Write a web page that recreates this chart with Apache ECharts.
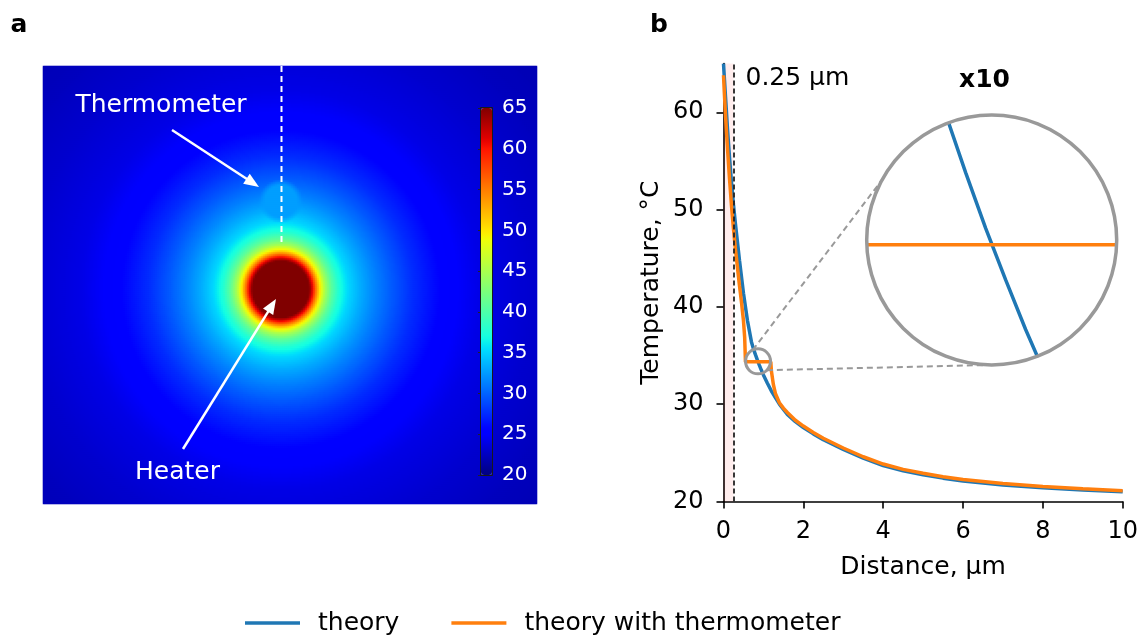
<!DOCTYPE html>
<html>
<head>
<meta charset="utf-8">
<script src="https://cdn.jsdelivr.net/npm/echarts@6/dist/echarts.min.js"></script>
<style>
  html, body { margin: 0; padding: 0; background: #ffffff; }
  #chart { width: 1141px; height: 635px; }
</style>
</head>
<body>
<div id="chart"></div>
<script>
// ---- Panel b: temperature along the dashed path, distance from the heater surface (µm) ----
const theoryDist = [0, 0.02, 0.05, 0.1, 0.15, 0.2, 0.25, 0.3, 0.4, 0.5, 0.6, 0.7, 0.75, 0.8, 0.85, 0.9, 0.95, 1.0,
  1.1, 1.2, 1.4, 1.6, 1.8, 2.0, 2.25, 2.5, 3.0, 3.5, 4.0, 4.5, 5.0, 5.5, 6.0, 7.0, 8.0, 9.0, 10.0];
const theoryTemp = [65.0, 63.6, 61.6, 58.3, 55.4, 52.8, 50.5, 48.5, 44.8, 41.4, 38.6, 36.4, 35.69, 35.09, 34.52, 33.99, 33.48, 33.01,
  32.15, 31.35, 30.0, 28.95, 28.2, 27.6, 26.95, 26.35, 25.35, 24.45, 23.7, 23.15, 22.75, 22.4, 22.1, 21.7, 21.42, 21.18, 21.0];

const thermoDist = [0, 0.02, 0.05, 0.1, 0.15, 0.2, 0.25, 0.3, 0.4, 0.45, 0.5, 0.53, 0.55, 1.185,
  1.2, 1.25, 1.3, 1.4, 1.5, 1.6, 1.8, 2.0, 2.25, 2.5, 3.0, 3.5, 4.0, 4.5, 5.0, 5.5, 6.0, 7.0, 8.0, 9.0, 10.0];
const thermoTemp = [63.8, 62.1, 59.7, 56.3, 53.2, 50.4, 48.0, 45.9, 42.2, 40.5, 38.6, 36.9, 34.35, 34.35,
  33.4, 32.0, 31.1, 30.15, 29.6, 29.15, 28.35, 27.75, 27.1, 26.5, 25.5, 24.6, 23.85, 23.3, 22.9, 22.55, 22.25, 21.85, 21.55, 21.3, 21.1];

const distTicks = [0, 2, 4, 6, 8, 10];
const tempTicks = [20, 30, 40, 50, 60];
const markerDist = 0.25;          // thermometer gap marker
const zoomCenter = [0.865, 34.4]; // centre of the magnified region
const zoomFactor = 10;

// ---- Panel a: temperature map, radial profile around the heater (map pixels) ----
const mapRadius = [0, 28.5, 30, 32, 35, 39, 44, 50, 58, 68, 80, 95, 112, 132, 160, 200, 250, 300, 360];
const mapTemp   = [65, 65, 63, 60.5, 55.5, 50, 45, 41, 37.5, 35, 33.2, 31.3, 29.5, 27.6, 25.6, 24.0, 23.1, 22.4, 21.8];
const thermometerTemp = 32.6;
const colorbarTicks = [20, 25, 30, 35, 40, 45, 50, 55, 60, 65];
const tempMin = 20, tempMax = 65;

// ---- layout ----
const FONT = '"DejaVu Sans", sans-serif';
const mapBox = { left: 43, top: 66, width: 494, height: 438 };
const heaterC = { x: 238, y: 223 };          // in map pixels
const thermoC = { x: 238, y: 135, r: 19 };   // in map pixels
const cbBox = { left: 481, top: 108, width: 11, height: 367 };
const mainBox = { left: 723.5, top: 63.6, width: 399.2, height: 437.9 };
const xRange = [0, 10], yRange = [tempMin, tempMax];
const inset = { cx: 991.7, cy: 240, r: 125 };
const smallR = 12.5;

// jet colour map
const jetSeg = {
  r: [[0, 0], [0.35, 0], [0.66, 1], [0.89, 1], [1, 0.5]],
  g: [[0, 0], [0.125, 0], [0.375, 1], [0.64, 1], [0.91, 0], [1, 0]],
  b: [[0, 0.5], [0.11, 1], [0.34, 1], [0.65, 0], [1, 0]]
};
function segVal(s, t) {
  for (let k = 1; k < s.length; k++) {
    if (t <= s[k][0]) {
      const [t0, v0] = s[k - 1], [t1, v1] = s[k];
      return v0 + (v1 - v0) * (t - t0) / (t1 - t0);
    }
  }
  return s[s.length - 1][1];
}
const jetColors = [];
for (let k = 0; k <= 64; k++) {
  const t = k / 64;
  const c = ['r', 'g', 'b'].map(ch => Math.round(255 * segVal(jetSeg[ch], t)));
  jetColors.push('rgb(' + c.join(',') + ')');
}

// map cells
function profileAt(r) {
  if (r <= mapRadius[0]) return mapTemp[0];
  for (let k = 1; k < mapRadius.length; k++) {
    if (r <= mapRadius[k]) {
      const f = (r - mapRadius[k - 1]) / (mapRadius[k] - mapRadius[k - 1]);
      return mapTemp[k - 1] + f * (mapTemp[k] - mapTemp[k - 1]);
    }
  }
  return mapTemp[mapTemp.length - 1];
}
const cell = 2;
const cols = mapBox.width / cell, rows = mapBox.height / cell;
const heatData = [];
for (let j = 0; j < rows; j++) {
  const py = mapBox.height - (j + 0.5) * cell;
  for (let i = 0; i < cols; i++) {
    const px = (i + 0.5) * cell;
    let T = profileAt(Math.hypot(px - heaterC.x, py - heaterC.y));
    const dt = Math.hypot(px - thermoC.x, py - thermoC.y);
    const w = Math.min(1, Math.max(0, (thermoC.r + 3 - dt) / 6));
    T = T * (1 - w) + thermometerTemp * w;
    heatData.push([i, j, Math.min(tempMax, Math.max(tempMin, T))]);
  }
}
const colCats = Array.from({ length: cols }, (_, i) => i);
const rowCats = Array.from({ length: rows }, (_, i) => i);

const theoryPts = theoryDist.map((d, i) => [d, theoryTemp[i]]);
const thermoPts = thermoDist.map((d, i) => [d, thermoTemp[i]]);

// inset axis ranges follow the main scale magnified by zoomFactor
const pxPerX = mainBox.width / (xRange[1] - xRange[0]) * zoomFactor;
const pxPerY = mainBox.height / (yRange[1] - yRange[0]) * zoomFactor;
const insetX = [zoomCenter[0] - inset.r / pxPerX, zoomCenter[0] + inset.r / pxPerX];
const insetY = [zoomCenter[1] - inset.r / pxPerY, zoomCenter[1] + inset.r / pxPerY];

const BLUE = '#1f77b4', ORANGE = '#ff7f0e';
const hiddenValueAxis = (gi, range) => ({
  type: 'value', gridIndex: gi, min: range[0], max: range[1], show: false,
  axisLine: { show: false }, axisTick: { show: false }, axisLabel: { show: false }, splitLine: { show: false }
});

const chart = echarts.init(document.getElementById('chart'), null, { renderer: 'canvas' });

const option = {
  animation: false,
  backgroundColor: '#ffffff',
  textStyle: { fontFamily: FONT },
  grid: [
    { left: mapBox.left, top: mapBox.top, width: mapBox.width, height: mapBox.height, outerBoundsMode: 'none', containLabel: false },
    { left: mainBox.left, top: mainBox.top, width: mainBox.width, height: mainBox.height, outerBoundsMode: 'none', containLabel: false },
    { left: inset.cx - inset.r, top: inset.cy - inset.r, width: 2 * inset.r, height: 2 * inset.r, outerBoundsMode: 'none', containLabel: false },
    { left: cbBox.left, top: cbBox.top, width: cbBox.width, height: cbBox.height, outerBoundsMode: 'none', containLabel: false }
  ],
  xAxis: [
    { type: 'category', gridIndex: 0, data: colCats, show: false },
    {
      type: 'value', gridIndex: 1, min: xRange[0], max: xRange[1], interval: 2,
      name: 'Distance, µm', nameLocation: 'middle', nameGap: 53, nameMoveOverlap: false,
      nameTextStyle: { fontSize: 25, color: '#000', fontFamily: FONT },
      axisLine: { show: true, lineStyle: { color: '#000', width: 1.6 } },
      axisTick: { show: true, length: 7, lineStyle: { color: '#000', width: 1.6 }, customValues: distTicks },
      axisLabel: { fontSize: 24, color: '#000', margin: 18, fontFamily: FONT, customValues: distTicks },
      splitLine: { show: false }
    },
    hiddenValueAxis(2, insetX),
    { type: 'value', gridIndex: 3, min: 0, max: 1, show: false }
  ],
  yAxis: [
    { type: 'category', gridIndex: 0, data: rowCats, show: false },
    {
      type: 'value', gridIndex: 1, min: yRange[0], max: yRange[1],
      name: 'Temperature, °C', nameLocation: 'middle', nameGap: 60, nameRotate: 90, nameMoveOverlap: false,
      nameTextStyle: { fontSize: 25, color: '#000', fontFamily: FONT },
      axisLine: { show: true, lineStyle: { color: '#000', width: 1.6 } },
      axisTick: { show: true, length: 7, lineStyle: { color: '#000', width: 1.6 }, customValues: tempTicks },
      axisLabel: { fontSize: 24, color: '#000', margin: 20, fontFamily: FONT, customValues: tempTicks },
      splitLine: { show: false }
    },
    hiddenValueAxis(2, insetY),
    {
      type: 'value', gridIndex: 3, min: tempMin, max: tempMax, interval: 5, position: 'right', z: 10,
      axisLine: { show: false },
      axisTick: { show: true, inside: true, length: 3, lineStyle: { color: '#222', width: 1 }, customValues: colorbarTicks },
      axisLabel: { fontSize: 20, color: '#ffffff', margin: 10, fontFamily: FONT, customValues: colorbarTicks },
      splitLine: { show: false }
    }
  ],
  visualMap: {
    type: 'continuous', seriesIndex: 0, min: tempMin, max: tempMax,
    calculable: false, hoverLink: false, realtime: false,
    orient: 'vertical', left: cbBox.left, top: cbBox.top,
    itemWidth: cbBox.width, itemHeight: cbBox.height, padding: 0,
    showLabel: false, text: null,
    inRange: { color: jetColors }
  },
  legend: {
    data: ['theory', 'theory with thermometer'],
    left: 240, top: 603, orient: 'horizontal',
    icon: 'rect', itemWidth: 55, itemHeight: 3.5, itemGap: 52,
    selectedMode: false,
    textStyle: { fontSize: 25, color: '#000', fontFamily: FONT, lineHeight: 30, padding: [0, 0, 0, 13] }
  },
  series: [
    {
      type: 'heatmap', xAxisIndex: 0, yAxisIndex: 0, data: heatData,
      progressive: 0, silent: true, itemStyle: { borderWidth: 0 }, emphasis: { disabled: true }
    },
    {
      name: 'theory', type: 'line', xAxisIndex: 1, yAxisIndex: 1, data: theoryPts,
      showSymbol: false, symbol: 'none', color: BLUE, lineStyle: { color: BLUE, width: 3.5 },
      silent: true, z: 3,
      markArea: {
        silent: true, itemStyle: { color: 'rgba(255,0,0,0.07)' },
        data: [[{ xAxis: 0 }, { xAxis: markerDist }]]
      },
      markLine: {
        silent: true, symbol: 'none', label: { show: false },
        lineStyle: { color: '#222', width: 1.8, type: [5, 3] },
        data: [{ xAxis: markerDist }]
      }
    },
    {
      name: 'theory with thermometer', type: 'line', xAxisIndex: 1, yAxisIndex: 1, data: thermoPts,
      showSymbol: false, symbol: 'none', color: ORANGE, lineStyle: { color: ORANGE, width: 3.5 },
      silent: true, z: 4
    },
    {
      name: 'theory', type: 'line', xAxisIndex: 2, yAxisIndex: 2, data: theoryPts, clip: true,
      showSymbol: false, symbol: 'none', color: BLUE, lineStyle: { color: BLUE, width: 3.5 }, silent: true, z: 3
    },
    {
      name: 'theory with thermometer', type: 'line', xAxisIndex: 2, yAxisIndex: 2, data: thermoPts, clip: true,
      showSymbol: false, symbol: 'none', color: ORANGE, lineStyle: { color: ORANGE, width: 3.5 }, silent: true, z: 4
    }
  ]
};
chart.setOption(option);

// ---- annotations ----
const toMain = p => chart.convertToPixel({ xAxisIndex: 1, yAxisIndex: 1 }, p);
const mapPx = (x, y) => [mapBox.left + x, mapBox.top + y];

function arrow(x1, y1, x2, y2) {
  const dx = x2 - x1, dy = y2 - y1, L = Math.hypot(dx, dy), ux = dx / L, uy = dy / L;
  const hl = 15, hw = 6;
  const bx = x2 - ux * hl, by = y2 - uy * hl;
  return [
    { type: 'line', z: 20, silent: true, shape: { x1, y1, x2: bx + ux, y2: by + uy }, style: { stroke: '#fff', lineWidth: 2.5 } },
    { type: 'polygon', z: 20, silent: true, shape: { points: [[x2, y2], [bx - uy * hw, by + ux * hw], [bx + uy * hw, by - ux * hw]] }, style: { fill: '#fff' } }
  ];
}
const label = (text, x, y, opts) => Object.assign({
  type: 'text', z: 30, silent: true,
  style: Object.assign({ text, x, y, fill: '#000', font: '25px ' + FONT, align: 'center', verticalAlign: 'middle' }, opts || {})
});

const dashTop = mapPx(heaterC.x + 0.5, 0);
const dashEnd = mapPx(heaterC.x + 0.5, 177);
const markerPx = toMain([markerDist, yRange[1]]);
const smallC = toMain(zoomCenter);
const onCircle = (c, r, deg) => [c[0] + r * Math.cos(deg * Math.PI / 180), c[1] + r * Math.sin(deg * Math.PI / 180)];
const bigC = [inset.cx, inset.cy];
const connectors = [[245, 209], [45, 91]].map(([a1, a2]) => {
  const p1 = onCircle(smallC, smallR, a1), p2 = onCircle(bigC, inset.r, a2);
  return { type: 'line', z: 25, silent: true, shape: { x1: p1[0], y1: p1[1], x2: p2[0], y2: p2[1] },
    style: { stroke: '#999', lineWidth: 2, lineDash: [6, 4] } };
});

const graphics = [
  // panel letters
  label('a', 19, 25, { font: 'bold 25px ' + FONT }),
  label('b', 659, 25, { font: 'bold 25px ' + FONT }),
  // map annotations
  { type: 'line', z: 20, silent: true, shape: { x1: dashTop[0], y1: dashTop[1], x2: dashEnd[0], y2: dashEnd[1] },
    style: { stroke: '#fff', lineWidth: 2, lineDash: [6, 4] } },
  ...arrow(172, 130, 259, 187),
  ...arrow(183, 449, 276, 299),
  label('Thermometer', 161, 105, { fill: '#fff' }),
  label('Heater', 177.5, 472, { fill: '#fff' }),
  // colour bar outline
  { type: 'rect', z: 20, silent: true, shape: { x: cbBox.left - 0.5, y: cbBox.top - 0.5, width: cbBox.width + 1, height: cbBox.height + 1 },
    style: { fill: 'none', stroke: '#1a1a1a', lineWidth: 1 } },
  // marker label
  label(markerDist + ' µm', markerPx[0] + 12, 78, { align: 'left', font: '25px ' + FONT }),
  // magnifier: white surround keeps the magnified curves inside the lens
  { type: 'circle', z: 22, silent: true, shape: { cx: bigC[0], cy: bigC[1], r: inset.r + 29 },
    style: { fill: 'none', stroke: '#fff', lineWidth: 56 } },
  { type: 'circle', z: 24, silent: true, shape: { cx: bigC[0], cy: bigC[1], r: inset.r },
    style: { fill: 'none', stroke: '#999', lineWidth: 3.5 } },
  { type: 'circle', z: 24, silent: true, shape: { cx: smallC[0], cy: smallC[1], r: smallR },
    style: { fill: 'none', stroke: '#999', lineWidth: 3 } },
  ...connectors,
  label('x' + zoomFactor, 984.5, 80, { font: 'bold 25px ' + FONT })
];
chart.setOption({ graphic: { elements: graphics } });
</script>
</body>
</html>
